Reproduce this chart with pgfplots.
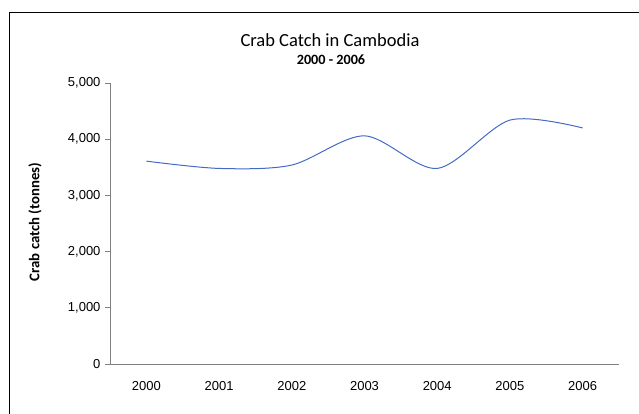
\documentclass[border=0pt]{standalone}
\usepackage{pgfplots}
\pgfplotsset{compat=1.18}
\usepackage{fontspec}
\setmainfont{Carlito}
\newfontfamily\arial{Liberation Sans}
\definecolor{lineblue}{RGB}{68,106,196}
\definecolor{axgray}{RGB}{128,128,128}
\begin{document}
\begin{tikzpicture}[x=1pt,y=1pt]
\begin{axis}[
  at={(110pt,-364pt)}, anchor=south west,
  scale only axis, width=509pt, height=281pt,
  xmin=-0.5, xmax=6.5, ymin=0, ymax=5000,
  axis x line*=bottom, axis y line*=left,
  axis line style={axgray, line width=1pt},
  xtick={0,...,6},
  xticklabels={2000,2001,2002,2003,2004,2005,2006},
  ytick={0,1000,...,5000},
  scaled y ticks=false,
  /pgf/number format/.cd, 1000 sep={,}, assume math mode=true, /pgfplots/.cd,
  tick label style={font=\arial\fontsize{13}{15}\selectfont, black},
  xtick style={draw=none},
  ytick style={axgray, line width=1pt},
  tick align=outside, major tick length=5pt,
  xticklabel style={yshift=-9pt},
  yticklabel style={xshift=-1pt},
  clip=false,
]
\addplot[lineblue, line width=1pt, smooth, tension=0.5] coordinates {
  (0,3610) (1,3480) (2,3540) (3,4060) (4,3480) (5,4340) (6,4200)
};
\end{axis}
\draw[black, line width=1pt] (9.5,-500) -- (9.5,-12.7) -- (700,-12.7);
\node[font=\fontsize{18.5}{20}\selectfont, anchor=base] at (330,-47) {Crab Catch in Cambodia};
\node[font=\bfseries\fontsize{14.2}{16}\selectfont, anchor=base] at (331,-65) {2000 - 2006};
\node[font=\bfseries\fontsize{14.8}{16}\selectfont, rotate=90] at (35,-222) {Crab catch (tonnes)};
\pgfresetboundingbox
\path[use as bounding box] (0,0) rectangle (639,-414);
\end{tikzpicture}
\end{document}
